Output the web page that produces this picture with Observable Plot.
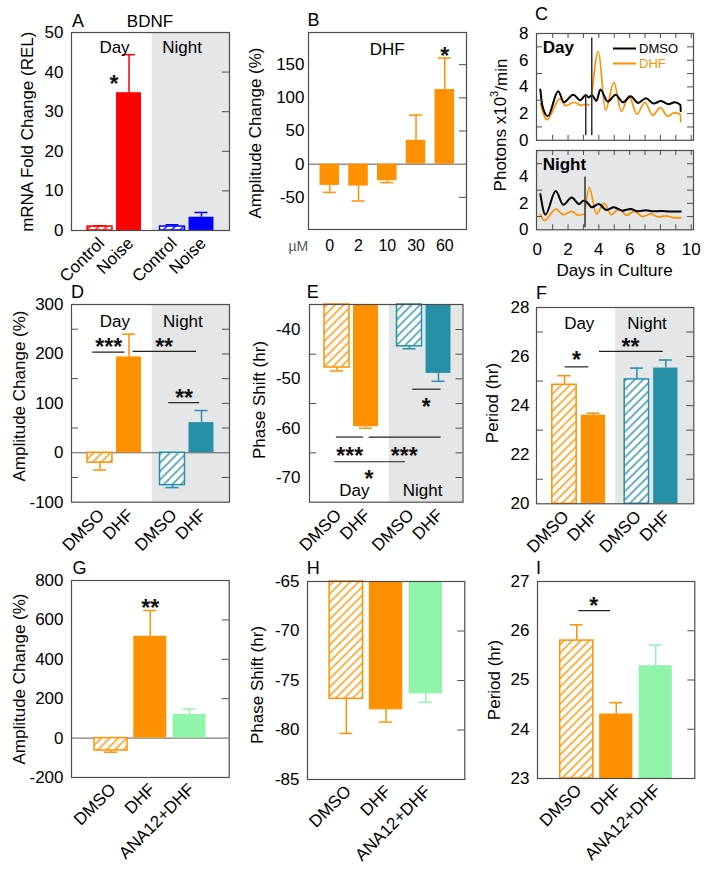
<!DOCTYPE html>
<html>
<head>
<meta charset="utf-8">
<title>BDNF / DHF figure</title>
<script src="https://cdn.jsdelivr.net/npm/d3@7"></script>
<script src="https://cdn.jsdelivr.net/npm/@observablehq/plot@0.6"></script>
<style>
html,body{margin:0;padding:0;background:#fff;}
#fig{position:relative;width:714px;height:874px;overflow:hidden;background:#fff;font-family:"Liberation Sans",Arial,Helvetica,sans-serif;}
</style>
</head>
<body>
<svg width="0" height="0" style="position:absolute;width:0;height:0" aria-hidden="true">
<defs>
<pattern id="hatch-orange" patternUnits="userSpaceOnUse" width="6" height="6" patternTransform="rotate(45)"><rect width="6" height="6" fill="#fff"/><line x1="3" y1="-1" x2="3" y2="7" stroke="#ff9000" stroke-width="1.4"/></pattern>
<pattern id="hatch-red" patternUnits="userSpaceOnUse" width="6" height="6" patternTransform="rotate(45)"><rect width="6" height="6" fill="#fff"/><line x1="3" y1="-1" x2="3" y2="7" stroke="#ff0000" stroke-width="1.4"/></pattern>
<pattern id="hatch-blue" patternUnits="userSpaceOnUse" width="6" height="6" patternTransform="rotate(45)"><rect width="6" height="6" fill="#fff"/><line x1="3" y1="-1" x2="3" y2="7" stroke="#0000ff" stroke-width="1.4"/></pattern>
<pattern id="hatch-teal" patternUnits="userSpaceOnUse" width="6" height="6" patternTransform="rotate(45)"><rect width="6" height="6" fill="#fff"/><line x1="3" y1="-1" x2="3" y2="7" stroke="#2690a8" stroke-width="1.4"/></pattern>
</defs>
</svg>
<div id="fig"></div>
<script>
// ================= DATA =================
// Panel A – BDNF mRNA fold change
const aGroups = ["Day", "Day", "Night", "Night"];
const aTreatments = ["Control", "Noise", "Control", "Noise"];
const aMeans = [1.0, 34.8, 1.0, 3.35];
const aErrEnds = [1.2, 44.4, 1.45, 4.55];
const aYTicks = [0, 10, 20, 30, 40, 50];

// Panel B – DHF dose response (amplitude change %)
const bDoses = ["0", "2", "10", "30", "60"];
const bMeans = [-32, -33, -25, 36, 112.5];
const bErrEnds = [-42.5, -55.5, -27.8, 74, 160];
const bYTicks = [-50, 0, 50, 100, 150];

// Panel C – bioluminescence traces, [day, photons x10^3/min]
const cDayDMSO = [[0.2,3.8],[0.33,2.6],[0.68,1.8],[1.36,3.67],[1.73,2.85],[2.34,3.42],[2.78,3.0],[3.16,3.4],[3.35,3.2],[3.54,3.4],[3.84,2.95],[4.1,3.8],[4.58,2.9],[5.09,3.42],[5.57,2.85],[6.07,3.3],[6.55,2.8],[7.06,3.15],[7.56,2.75],[8.04,2.95],[8.53,2.7],[8.92,2.85],[9.3,2.65],[9.32,2.2]];
const cDayDHFBefore = [[0.2,2.75],[0.63,1.55],[1.47,3.1],[1.84,2.6],[2.39,2.85],[2.83,2.62],[3.1,2.7],[3.35,2.65]];
const cDayDHFAfter = [[3.54,3.3],[3.97,6.67],[4.43,2.25],[4.98,4.34],[5.46,2.17],[5.96,3.33],[6.47,1.95],[6.99,2.85],[7.5,1.87],[8.0,2.44],[8.48,1.8],[8.88,2.05],[9.3,1.95],[9.32,1.4]];
const cNightDMSO = [[0.2,2.7],[0.53,1.15],[1.2,2.94],[1.69,1.9],[2.24,2.44],[2.72,1.95],[3.0,2.2],[3.22,2.1],[3.55,1.7],[3.99,1.95],[4.5,1.5],[4.98,1.7],[5.53,1.45],[6.07,1.58],[6.51,1.4],[7.06,1.48],[7.5,1.4],[8.05,1.42],[8.6,1.38],[9.32,1.38]];
const cNightDHFBefore = [[0.2,1.15],[0.48,0.7],[1.2,1.57],[1.69,1.15],[2.24,1.4],[2.67,1.1],[3.05,1.2]];
const cNightDHFAfter = [[3.12,1.6],[3.38,3.2],[3.84,1.2],[4.36,2.0],[4.8,1.15],[5.3,1.57],[5.81,1.1],[6.29,1.4],[6.84,1.0],[7.39,1.2],[7.87,0.97],[8.37,1.05],[8.85,0.92],[9.32,0.9]];
const cDayTreatmentLines = [{day: 3.15, from: 0.35, to: 3.35}, {day: 3.54, from: 0.35, to: 7.66}];
const cNightTreatmentLines = [{day: 3.1, from: 0.15, to: 4.0}];
const cDayYTicks = [0, 2, 4, 6, 8];
const cNightYTicks = [0, 2, 4];
const cXTicks = [0, 2, 4, 6, 8, 10];

// Panels D–F – Day/Night, DMSO vs DHF
const defGroups = ["Day", "Day", "Night", "Night"];
const defTreatments = ["DMSO", "DHF", "DMSO", "DHF"];
const dMeans = [-20, 194, -65.5, 61];
const dErrEnds = [-35, 240, -70.5, 85.5];
const dYTicks = [-100, 0, 100, 200, 300];
const eMeans = [-47.7, -59.7, -43.4, -48.9];
const eErrEnds = [-48.4, -60.0, -43.9, -50.5];
const eYTicks = [-40, -50, -60, -70];
const fMeans = [24.85, 23.61, 25.07, 25.53];
const fErrEnds = [25.22, 23.69, 25.53, 25.86];
const fYTicks = [20, 22, 24, 26, 28];

// Panels G–I – DMSO, DHF, ANA12+DHF
const ghiTreatments = ["DMSO", "DHF", "ANA12+DHF"];
const gMeans = [-63, 517, 120];
const gErrEnds = [-71.5, 648, 147];
const gYTicks = [-200, 0, 200, 400, 600, 800];
const hMeans = [-76.85, -77.96, -76.35];
const hErrEnds = [-80.35, -79.2, -77.2];
const hYTicks = [-85, -80, -75, -70, -65];
const iMeans = [25.8, 24.31, 25.29];
const iErrEnds = [26.12, 24.54, 25.71];
const iYTicks = [23, 24, 25, 26, 27];

// Annotations (group labels, significance brackets and stars)
const aNotes = [{label: "Day", x: 0.5, y: 46.1}, {label: "Night", x: 2.83, y: 46.1}];
const aStars = [{label: "*", x: 0.48, y: 38.4}];
const bNotes = [{label: "DHF", x: 2.0, y: 172.5}];
const bStars = [{label: "*", x: 4, y: 171.9}];
const dNotes = [{label: "Day", x: 0.51, y: 265}, {label: "Night", x: 2.86, y: 265}];
const dBrackets = [{x1: -0.25, x2: 0.86, y: 203.6}, {x1: 1.14, x2: 3.33, y: 205}, {x1: 2.37, x2: 3.44, y: 101.4}];
const dStars = [{label: "***", x: 0.30, y: 225.6}, {label: "**", x: 2.21, y: 225.6}, {label: "**", x: 2.9, y: 121.8}];
const eNotes = [{label: "Day", x: 0.6, y: -72.6}, {label: "Night", x: 2.95, y: -72.6}];
const eBrackets = [{x1: 2.61, x2: 3.59, y: -52.1}, {x1: -0.02, x2: 0.92, y: -61.8}, {x1: 1.11, x2: 3.59, y: -61.8}, {x1: -0.08, x2: 2.36, y: -66.8}];
const eStars = [{label: "*", x: 3.08, y: -54.7}, {label: "***", x: 0.44, y: -64.5}, {label: "***", x: 2.32, y: -64.5}, {label: "*", x: 1.10, y: -69.3}];
const fNotes = [{label: "Day", x: 0.51, y: 27.34}, {label: "Night", x: 2.85, y: 27.34}];
const fBrackets = [{x1: 0.02, x2: 0.84, y: 25.58}, {x1: 1.21, x2: 3.41, y: 26.21}];
const fStars = [{label: "*", x: 0.41, y: 26.06}, {label: "**", x: 2.28, y: 26.61}];
const gStars = [{label: "**", x: 1.0, y: 690}];
const iBrackets = [{x1: 0.05, x2: 0.86, y: 26.41}];
const iStars = [{label: "*", x: 0.43, y: 26.61}];

// ================= STYLE / LAYOUT =================
const ORANGE = "#ff9000", RED = "#ff0000", BLUE = "#0000ff", TEAL = "#2690a8", GREEN = "#90f5aa";
const SHADE = "#e5e6e8", INK = "#4d4d4d";
const FONT = '"Liberation Sans", Arial, Helvetica, sans-serif';
const M = {l: 50, r: 12, t: 12, b: 90};
const fig = document.getElementById("fig");

function mount(svg, frame) {
  svg.style.position = "absolute";
  svg.style.left = (frame.x - M.l) + "px";
  svg.style.top = (frame.y - M.t) + "px";
  fig.appendChild(svg);
}

function basePlot(frame, xDomain, yDomain, marks, xExtra = {}) {
  return Plot.plot({
    width: frame.w + M.l + M.r,
    height: frame.h + M.t + M.b,
    marginLeft: M.l, marginRight: M.r, marginTop: M.t, marginBottom: M.b,
    x: {domain: xDomain, ...xExtra},
    y: {domain: yDomain},
    color: {type: "identity"},
    style: {fontFamily: FONT, fontSize: "17px", background: "transparent", overflow: "visible", color: "#000"},
    marks
  });
}

function groupedPositions(groups) {
  const order = [...new Set(groups)];
  return groups.map((g, i) => i + 0.5 * order.indexOf(g));
}
function plainPositions(labels) { return labels.map((_, i) => i); }

function makeRows(labels, means, errs, positions, styleOf) {
  return labels.map((label, i) => {
    const s = styleOf(i);
    return {
      label, mean: means[i], err: errs[i], pos: positions[i],
      color: s.color,
      fill: s.hatch ? `url(#${s.hatch})` : s.color,
      edge: s.hatch ? s.color : "none"
    };
  });
}

function barPanel(p) {
  const W = p.frame.w;
  const capHalf = 6.5 / p.unit;
  const marks = [];
  if (p.shadeFrom != null) marks.push(Plot.rect([p.shadeFrom], {x1: d => d, x2: p.xDomain[1], y1: p.yDomain[0], y2: p.yDomain[1], fill: SHADE}));
  if (p.zero) marks.push(Plot.ruleY([0], {stroke: "#5a5a5a", strokeWidth: 1}));
  marks.push(Plot.rect(p.rows, {x1: d => d.pos - p.hw, x2: d => d.pos + p.hw, y1: p.base, y2: "mean", fill: "fill", stroke: "edge", strokeWidth: 1.5}));
  marks.push(Plot.ruleX(p.rows, {x: "pos", y1: "mean", y2: "err", stroke: "color", strokeWidth: 1.5}));
  marks.push(Plot.ruleY(p.rows, {y: "err", x1: d => d.pos - capHalf, x2: d => d.pos + capHalf, stroke: "color", strokeWidth: 1.5}));
  if (p.brackets) marks.push(Plot.ruleY(p.brackets, {y: "y", x1: "x1", x2: "x2", stroke: "#222", strokeWidth: 1.2}));
  if (p.notes) marks.push(Plot.text(p.notes, {x: "x", y: "y", text: "label", fontSize: 17, fill: "#000"}));
  if (p.stars) marks.push(Plot.text(p.stars, {x: "x", y: "y", text: "label", fontSize: 23, fontWeight: "bold", dy: 6, fill: "#111"}));
  marks.push(Plot.tickY(p.rightTicks, {y: d => d, insetLeft: W - 7, stroke: INK}));
  if (p.leftMinor) marks.push(Plot.tickY(p.leftMinor, {y: d => d, insetRight: W - 7, stroke: INK}));
  marks.push(Plot.axisY({ticks: p.yTicks, tickFormat: d => String(d), tickSize: 0, tickPadding: p.yPad, label: null}));
  const labelOf = new Map(p.rows.map(d => [d.pos, d.label]));
  marks.push(Plot.axisX({ticks: p.rows.map(d => d.pos), tickFormat: d => labelOf.get(d), tickSize: 0, tickPadding: p.xPad, tickRotate: p.rotate, dx: p.xdx, label: null, fontSize: p.xFont || 17}));
  marks.push(Plot.frame({stroke: INK, strokeWidth: 1.2}));
  mount(basePlot(p.frame, p.xDomain, p.yDomain, marks), p.frame);
}

// ---------- Panel A ----------
barPanel({
  frame: {x: 71, y: 32, w: 158, h: 198},
  xDomain: [-0.983, 4.466], yDomain: [0, 50], base: 0, unit: 29, hw: 0.43, shadeFrom: 1.8,
  rows: makeRows(aTreatments, aMeans, aErrEnds, groupedPositions(aGroups),
    i => aGroups[i] === "Day" ? {color: RED, hatch: aTreatments[i] === "Control" ? "hatch-red" : null}
                              : {color: BLUE, hatch: aTreatments[i] === "Control" ? "hatch-blue" : null}),
  yTicks: aYTicks, rightTicks: [10, 20, 30, 40], yPad: 8,
  notes: aNotes, stars: aStars, rotate: -45, xPad: 10, xdx: 1.5
});

// ---------- Panel B ----------
barPanel({
  frame: {x: 307.7, y: 32.3, w: 158, h: 197},
  xDomain: [-0.74, 4.755], yDomain: [-98.5, 198.5], base: 0, unit: 28.75, hw: 0.34, zero: true,
  rows: makeRows(bDoses, bMeans, bErrEnds, plainPositions(bDoses), () => ({color: ORANGE, hatch: null})),
  yTicks: bYTicks, rightTicks: [-50, 50, 100, 150], yPad: 4,
  notes: bNotes, stars: bStars, rotate: 0, xPad: 10.5, xdx: 0, xFont: 16
});

// ---------- Panel C ----------
const cFrameDay = {x: 535.7, y: 32.5, w: 157, h: 106.8};
const cFrameNight = {x: 535.7, y: 150, w: 157, h: 79.3};
const cXDomain = [-0.05, 10.15];
const lineOpts = (stroke, w) => ({x: d => d[0], y: d => d[1], stroke, strokeWidth: w, curve: "monotone-x"});
const dayTicks = d3.range(1, 11);

mount(basePlot(cFrameDay, cXDomain, [0, 8], [
  Plot.line(cDayDHFBefore, lineOpts(ORANGE, 1.7)),
  Plot.line(cDayDHFAfter, lineOpts(ORANGE, 1.7)),
  Plot.line(cDayDMSO, lineOpts("#000", 2)),
  Plot.ruleX(cDayTreatmentLines, {x: "day", y1: "from", y2: "to", stroke: "#333", strokeWidth: 1.5}),
  Plot.tickY(d3.range(1, 8), {y: d => d, insetLeft: cFrameDay.w - 6, stroke: INK}),
  Plot.tickY([1, 3, 5, 7], {y: d => d, insetRight: cFrameDay.w - 6, stroke: INK}),
  Plot.tickX(dayTicks, {x: d => d, insetTop: cFrameDay.h - 5, stroke: INK}),
  Plot.tickX(dayTicks, {x: d => d, insetBottom: cFrameDay.h - 5, stroke: INK}),
  Plot.axisY({ticks: cDayYTicks, tickFormat: d => String(d), tickSize: 0, tickPadding: 8, label: null}),
  Plot.frame({stroke: INK, strokeWidth: 1.2})
], {axis: null}), cFrameDay);

mount(basePlot(cFrameNight, cXDomain, [0, 6], [
  Plot.frame({fill: SHADE, stroke: "none"}),
  Plot.line(cNightDHFBefore, lineOpts(ORANGE, 1.7)),
  Plot.line(cNightDHFAfter, lineOpts(ORANGE, 1.7)),
  Plot.line(cNightDMSO, lineOpts("#000", 2)),
  Plot.ruleX(cNightTreatmentLines, {x: "day", y1: "from", y2: "to", stroke: "#333", strokeWidth: 1.5}),
  Plot.tickY(d3.range(1, 6), {y: d => d, insetLeft: cFrameNight.w - 6, stroke: INK}),
  Plot.tickY([1, 3, 5], {y: d => d, insetRight: cFrameNight.w - 6, stroke: INK}),
  Plot.tickX(dayTicks, {x: d => d, insetTop: cFrameNight.h - 5, stroke: INK}),
  Plot.tickX(dayTicks, {x: d => d, insetBottom: cFrameNight.h - 5, stroke: INK}),
  Plot.axisY({ticks: cNightYTicks, tickFormat: d => String(d), tickSize: 0, tickPadding: 8, label: null}),
  Plot.axisX({ticks: cXTicks, tickFormat: d => String(d), tickSize: 0, tickPadding: 13, label: null}),
  Plot.frame({stroke: INK, strokeWidth: 1.2})
]), cFrameNight);

// ---------- Panels D, E, F ----------
const defStyle = i => defGroups[i] === "Day"
  ? {color: ORANGE, hatch: defTreatments[i] === "DMSO" ? "hatch-orange" : null}
  : {color: TEAL, hatch: defTreatments[i] === "DMSO" ? "hatch-teal" : null};
const defPositions = groupedPositions(defGroups);

barPanel({
  frame: {x: 71, y: 304.3, w: 158, h: 197.7},
  xDomain: [-0.983, 4.466], yDomain: [-100, 300], base: 0, unit: 29, hw: 0.43, shadeFrom: 1.8, zero: true,
  rows: makeRows(defTreatments, dMeans, dErrEnds, defPositions, defStyle),
  yTicks: dYTicks, rightTicks: [-50, 50, 100, 150, 200, 250], leftMinor: [-50, 50, 150, 250], yPad: 8,
  notes: dNotes, brackets: dBrackets, stars: dStars, rotate: -45, xPad: 10, xdx: 1.5
});

barPanel({
  frame: {x: 309, y: 304.3, w: 153.5, h: 197.7},
  xDomain: [-0.948, 4.345], yDomain: [-75, -34.93], base: -34.93, unit: 29, hw: 0.43, shadeFrom: 1.8,
  rows: makeRows(defTreatments, eMeans, eErrEnds, defPositions, defStyle),
  yTicks: eYTicks, rightTicks: [-40, -45, -50, -55, -60, -65, -70], leftMinor: [-45, -55, -65], yPad: 9,
  notes: eNotes, brackets: eBrackets, stars: eStars, rotate: -45, xPad: 10, xdx: 1.5
});

barPanel({
  frame: {x: 535.7, y: 306.7, w: 157.3, h: 196.3},
  xDomain: [-0.967, 4.467], yDomain: [20, 28], base: 20, unit: 28.94, hw: 0.42, shadeFrom: 1.77,
  rows: makeRows(defTreatments, fMeans, fErrEnds, defPositions, defStyle),
  yTicks: fYTicks, rightTicks: [21, 22, 23, 24, 25, 26, 27], leftMinor: [21, 23, 25, 27], yPad: 7,
  notes: fNotes, brackets: fBrackets, stars: fStars, rotate: -45, xPad: 10, xdx: 1.5
});

// ---------- Panels G, H, I ----------
const ghiStyle = i => ghiTreatments[i] === "DMSO" ? {color: ORANGE, hatch: "hatch-orange"}
  : ghiTreatments[i] === "DHF" ? {color: ORANGE, hatch: null} : {color: GREEN, hatch: null};
const ghiPositions = plainPositions(ghiTreatments);

barPanel({
  frame: {x: 71, y: 580, w: 157.7, h: 197},
  xDomain: [-1.006, 3.01], yDomain: [-200, 800], base: 0, unit: 39.25, hw: 0.42, zero: true,
  rows: makeRows(ghiTreatments, gMeans, gErrEnds, ghiPositions, ghiStyle),
  yTicks: gYTicks, rightTicks: [200, 400, 600], yPad: 8,
  stars: gStars, rotate: -45, xPad: 9, xdx: 2
});

barPanel({
  frame: {x: 306.7, y: 581, w: 157.3, h: 198},
  xDomain: [-0.976, 2.98], yDomain: [-85, -65], base: -65, unit: 39.75, hw: 0.42,
  rows: makeRows(ghiTreatments, hMeans, hErrEnds, ghiPositions, ghiStyle),
  yTicks: hYTicks, rightTicks: [-70, -75, -80], yPad: 8,
  rotate: -45, xPad: 9, xdx: 2
});

barPanel({
  frame: {x: 536.7, y: 581, w: 157.3, h: 197},
  xDomain: [-0.995, 2.99], yDomain: [23, 27], base: 23, unit: 39.5, hw: 0.42,
  rows: makeRows(ghiTreatments, iMeans, iErrEnds, ghiPositions, ghiStyle),
  yTicks: iYTicks, rightTicks: [24, 25, 26], yPad: 8,
  brackets: iBrackets, stars: iStars, rotate: -45, xPad: 9, xdx: 2
});

// ---------- Overlay: panel letters, axis titles, legend ----------
const yTitle = (x, y, inner) =>
  `<text transform="translate(${x},${y}) rotate(-90)" text-anchor="middle" dominant-baseline="central" font-size="17">${inner}</text>`;
fig.insertAdjacentHTML("beforeend", `
<svg width="714" height="874" style="position:absolute;left:0;top:0;pointer-events:none;overflow:visible" font-family='${FONT}' fill="#000">
  <g font-size="18">
    <text x="72" y="26.7">A</text>
    <text x="307.5" y="26">B</text>
    <text x="535" y="19.5">C</text>
    <text x="71" y="298.3">D</text>
    <text x="306.7" y="298.3">E</text>
    <text x="536" y="299.3">F</text>
    <text x="72.5" y="573.5">G</text>
    <text x="306.7" y="573.5">H</text>
    <text x="536" y="573.5">I</text>
  </g>
  <text x="150" y="26.7" font-size="17" text-anchor="middle">BDNF</text>
  <text x="298.3" y="250.6" font-size="14" text-anchor="middle" fill="#555">µM</text>
  <text x="614.5" y="276" font-size="17" text-anchor="middle">Days in Culture</text>
  ${yTitle(27.5, 131.7, "mRNA Fold Change (REL)")}
  ${yTitle(255.8, 133, "Amplitude Change (%)")}
  ${yTitle(500.5, 125, 'Photons x10<tspan font-size="11" dy="-7">3</tspan><tspan dy="7">/min</tspan>')}
  ${yTitle(19, 396, "Amplitude Change (%)")}
  ${yTitle(259, 400, "Phase Shift (hr)")}
  ${yTitle(492.5, 403, "Period (hr)")}
  ${yTitle(19, 679, "Amplitude Change (%)")}
  ${yTitle(257.5, 685, "Phase Shift (hr)")}
  ${yTitle(494, 680, "Period (hr)")}
  <text x="542.7" y="53.3" font-size="17" font-weight="bold">Day</text>
  <text x="542.7" y="170" font-size="17" font-weight="bold">Night</text>
  <line x1="613" x2="636" y1="48.5" y2="48.5" stroke="#000" stroke-width="2"/>
  <line x1="613" x2="636" y1="63.5" y2="63.5" stroke="${ORANGE}" stroke-width="2"/>
  <text x="639" y="53.2" font-size="13">DMSO</text>
  <text x="639" y="68.2" font-size="13" fill="${ORANGE}">DHF</text>
</svg>`);
</script>
</body>
</html>
